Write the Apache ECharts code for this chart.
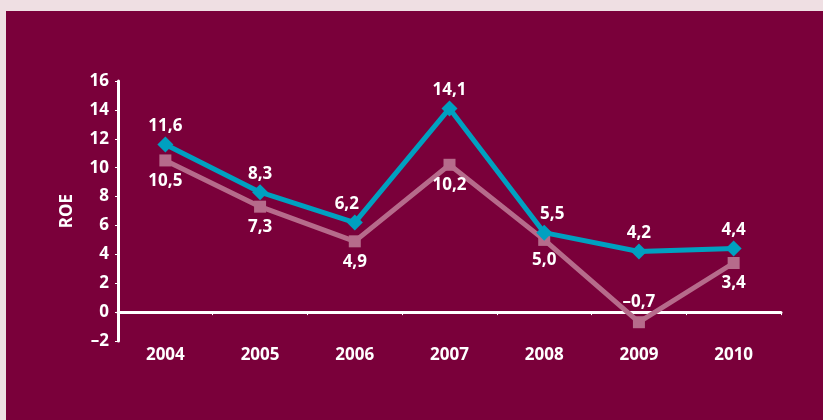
<!DOCTYPE html>
<html>
<head>
<meta charset="utf-8">
<script src="https://cdn.jsdelivr.net/npm/echarts@6/dist/echarts.min.js"></script>
<style>
  html, body { margin: 0; padding: 0; background: #efdfe3; }
  #panel { position: absolute; left: 6px; top: 11px; width: 817px; height: 409px; background: #7a003a; }
  #main { position: absolute; left: 0; top: 0; width: 823px; height: 420px; }
</style>
</head>
<body>
<div id="panel"></div>
<div id="main"></div>
<script>
var years = ['2004', '2005', '2006', '2007', '2008', '2009', '2010'];
var roeBlue = [11.6, 8.3, 6.2, 14.1, 5.5, 4.2, 4.4];
var roePink = [10.5, 7.3, 4.9, 10.2, 5.0, -0.7, 3.4];
var pinkLabelPos = ['bottom', 'bottom', 'bottom', 'bottom', 'bottom', 'top', 'bottom'];
var blueLabelShift = [0, 0, -8, 0, 8, 0, 0];

var font = 'Open Sans';
var fmt = function (v) {
  return (v < 0 ? '\u2013' : '') + Math.abs(v).toFixed(1).replace('.', ',');
};

var myChart = echarts.init(document.getElementById('main'));

var option = {
  backgroundColor: 'transparent',
  animation: false,
  grid: { left: 118, right: 42, top: 81, bottom: 79 },
  xAxis: {
    type: 'category',
    data: years,
    boundaryGap: true,
    axisLine: { onZero: true, lineStyle: { color: '#ffffff', width: 3 } },
    axisTick: { show: true, length: 3, lineStyle: { color: '#ffffff', width: 1 } },
    axisLabel: { color: '#ffffff', fontFamily: font, fontWeight: 700, fontSize: 17, margin: 6 }
  },
  yAxis: {
    type: 'value',
    min: -2,
    max: 16,
    interval: 2,
    name: 'ROE',
    nameLocation: 'middle',
    nameGap: 42,
    nameRotate: 90,
    nameTextStyle: { color: '#ffffff', fontFamily: font, fontWeight: 700, fontSize: 17 },
    splitLine: { show: false },
    axisLine: { show: true, lineStyle: { color: '#ffffff', width: 3 } },
    axisTick: { show: true, length: 3, lineStyle: { color: '#ffffff', width: 1 } },
    axisLabel: {
      color: '#ffffff', fontFamily: font, fontWeight: 700, fontSize: 17, margin: 9,
      formatter: function (v) { return v < 0 ? '\u2013' + Math.abs(v) : String(v); }
    }
  },
  series: [
    {
      name: 'pink',
      type: 'line',
      data: roePink.map(function (v, i) {
        return { value: v, label: { position: pinkLabelPos[i] } };
      }),
      symbol: 'rect',
      symbolSize: 12,
      lineStyle: { color: '#b66b8b', width: 5 },
      itemStyle: { color: '#b66b8b' },
      label: {
        show: true, distance: 6, color: '#ffffff', fontFamily: font, fontWeight: 700, fontSize: 17,
        formatter: function (p) { return fmt(p.value); }
      },
      z: 2
    },
    {
      name: 'blue',
      type: 'line',
      data: roeBlue.map(function (v, i) {
        return { value: v, label: { offset: [blueLabelShift[i], 0] } };
      }),
      symbol: 'diamond',
      symbolSize: 16,
      lineStyle: { color: '#00a0c0', width: 5 },
      itemStyle: { color: '#00a0c0' },
      label: {
        show: true, position: 'top', distance: 2, color: '#ffffff', fontFamily: font, fontWeight: 700, fontSize: 17,
        formatter: function (p) { return fmt(p.value); }
      },
      z: 3
    }
  ]
};

myChart.setOption(option);
</script>
</body>
</html>
